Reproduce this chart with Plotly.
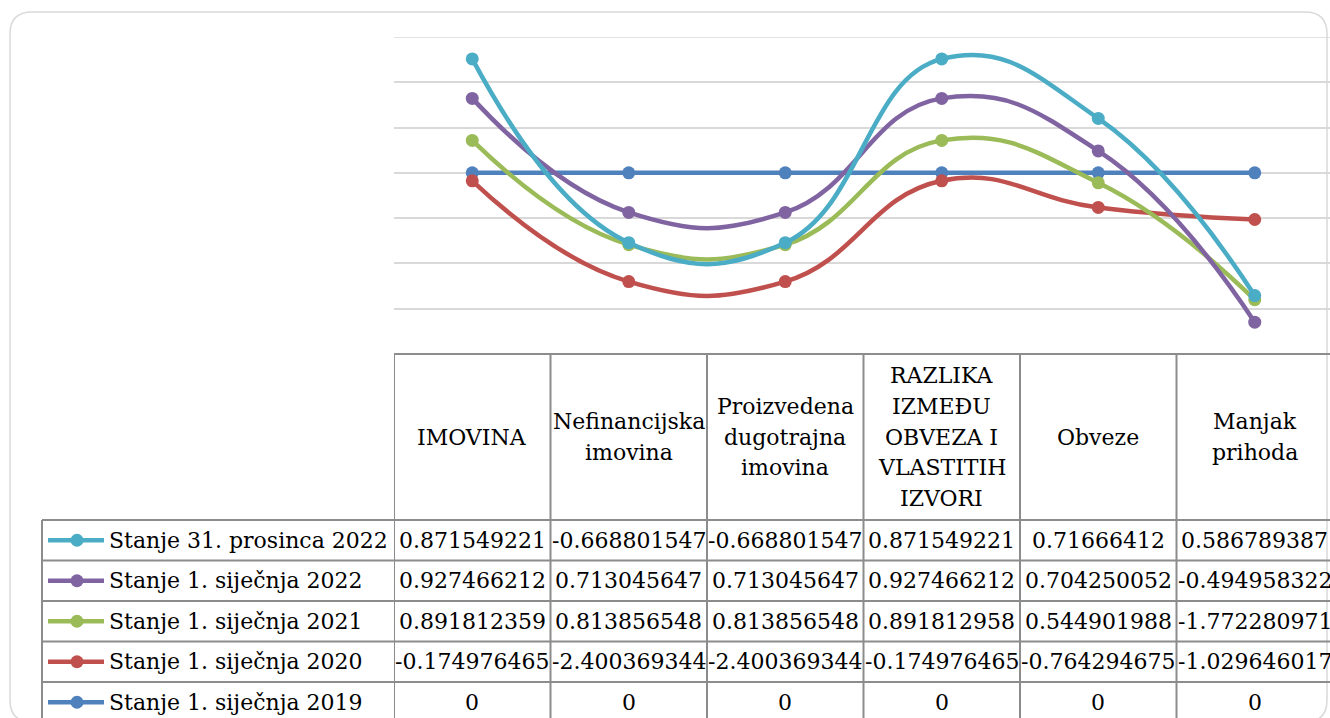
import numpy as np
import plotly.graph_objects as go

# ---------------- data ----------------
CATEGORIES = [
    "IMOVINA",
    "Nefinancijska<br>imovina",
    "Proizvedena<br>dugotrajna<br>imovina",
    "RAZLIKA<br>IZMEĐU<br>OBVEZA I<br>VLASTITIH<br>IZVORI",
    "Obveze",
    "Manjak<br>prihoda",
]

SERIES_NAMES = [
    "Stanje 1. siječnja 2019",
    "Stanje 1. siječnja 2020",
    "Stanje 1. siječnja 2021",
    "Stanje 1. siječnja 2022",
    "Stanje 31. prosinca 2022",
]
S2019 = [0, 0, 0, 0, 0, 0]
S2020 = [-0.174976465, -2.400369344, -2.400369344, -0.174976465, -0.764294675, -1.029646017]
S2021 = [0.891812359, 0.813856548, 0.813856548, 0.891812958, 0.544901988, -1.772280971]
S2022 = [0.927466212, 0.713045647, 0.713045647, 0.927466212, 0.704250052, -0.494958322]
S2022_DEC = [0.871549221, -0.668801547, -0.668801547, 0.871549221, 0.71666412, 0.586789387]

SERIES_VALUES = [S2019, S2020, S2021, S2022, S2022_DEC]
COLORS = ["#4f81bd", "#c0504d", "#9bbb59", "#8064a2", "#4bacc6"]

# ---------------- layout helpers ----------------
W, H = 1330, 718
FONT = "DejaVu Serif"
FS = 22
GRID = "#d9d9d9"
TABLE = "#8c8c8c"


def px(x):
    return x / W


def py(y):
    return 1 - y / H


PLOT_TOP, PLOT_BOT = 37, 354
PLOT_LEFT = 394
COL_W = 156.5
LEG_LEFT = 42
HEADER_BOT = 520
ROW_H = 40.5
Y_MIN, Y_MAX = -4, 3

n = len(CATEGORIES)
xs = np.arange(n)
stacked = np.cumsum(np.array(SERIES_VALUES, dtype=float), axis=0)

fig = go.Figure()
for name, ys, col in zip(SERIES_NAMES, stacked, COLORS):
    fig.add_trace(go.Scatter(
        x=xs, y=ys, name=name, mode="lines+markers",
        line=dict(color=col, width=4.5, shape="spline", smoothing=1.3),
        marker=dict(color=col, size=13),
        showlegend=False, hoverinfo="skip",
    ))

shapes = []
annotations = []

# rounded outer border
x0, y0, x1, y1 = px(10), py(12), px(1327), py(722)
rx, ry = 22 / W, 22 / H
path = (f"M {x0+rx},{y0} L {x1-rx},{y0} Q {x1},{y0} {x1},{y0-ry} "
        f"L {x1},{y1+ry} Q {x1},{y1} {x1-rx},{y1} L {x0+rx},{y1} "
        f"Q {x0},{y1} {x0},{y1+ry} L {x0},{y0-ry} Q {x0},{y0} {x0+rx},{y0} Z")
shapes.append(dict(type="path", xref="paper", yref="paper", path=path,
                   line=dict(color=GRID, width=1.5), layer="below"))

# top gridline (at the axis maximum)
shapes.append(dict(type="line", xref="paper", yref="y",
                   x0=px(PLOT_LEFT), x1=1, y0=Y_MAX, y1=Y_MAX,
                   line=dict(color=GRID, width=1.5), layer="below"))

# table: top line of header
shapes.append(dict(type="line", xref="paper", yref="paper",
                   x0=px(PLOT_LEFT), x1=1, y0=py(PLOT_BOT), y1=py(PLOT_BOT),
                   line=dict(color=TABLE, width=2)))
# row lines
row_edges = [HEADER_BOT + k * ROW_H for k in range(len(SERIES_NAMES))]
for ry_ in row_edges:
    shapes.append(dict(type="line", xref="paper", yref="paper",
                       x0=px(LEG_LEFT), x1=1, y0=py(ry_), y1=py(ry_),
                       line=dict(color=TABLE, width=2)))
# vertical column boundaries
for i in range(n + 1):
    shapes.append(dict(type="line", xref="x", yref="paper",
                       x0=i - 0.5, x1=i - 0.5, y0=py(PLOT_BOT), y1=-0.02,
                       line=dict(color=TABLE, width=2)))
shapes.append(dict(type="line", xref="paper", yref="paper",
                   x0=px(LEG_LEFT), x1=px(LEG_LEFT), y0=py(HEADER_BOT), y1=-0.02,
                   line=dict(color=TABLE, width=2)))

# header labels
HEAD_C = 437
LINE_H = 30.7
for i, cat in enumerate(CATEGORIES):
    parts = cat.split("<br>")
    m = len(parts)
    for k, part in enumerate(parts):
        yc = HEAD_C + (k - (m - 1) / 2) * LINE_H
        annotations.append(dict(x=i, y=py(yc), xref="x", yref="paper", text=part,
                                showarrow=False, xanchor="center", yanchor="middle",
                                font=dict(family=FONT, size=FS, color="#000")))


def fmt(v):
    if v == 0:
        return "0"
    return f"{v:.9f}".rstrip("0").rstrip(".")


# data rows: listed in reverse series order (top = last series)
order = list(range(len(SERIES_NAMES)))[::-1]
for r, si in enumerate(order):
    yc = HEADER_BOT + (r + 0.5) * ROW_H
    col = COLORS[si]
    # legend key
    shapes.append(dict(type="line", xref="paper", yref="paper",
                       x0=px(48), x1=px(104), y0=py(yc), y1=py(yc),
                       line=dict(color=col, width=4.5)))
    shapes.append(dict(type="circle", xref="paper", yref="paper",
                       x0=px(77 - 6.5), x1=px(77 + 6.5), y0=py(yc + 6.5), y1=py(yc - 6.5),
                       fillcolor=col, line=dict(width=0)))
    annotations.append(dict(x=px(107), y=py(yc), xref="paper", yref="paper",
                            text=SERIES_NAMES[si], showarrow=False,
                            xanchor="left", yanchor="middle",
                            font=dict(family=FONT, size=FS, color="#000")))
    for i, v in enumerate(SERIES_VALUES[si]):
        annotations.append(dict(x=i, y=py(yc), xref="x", yref="paper", text=fmt(v),
                                showarrow=False, xanchor="center", yanchor="middle",
                                font=dict(family=FONT, size=FS, color="#000")))

fig.update_layout(
    width=W, height=H,
    margin=dict(l=0, r=0, t=0, b=0),
    paper_bgcolor="white", plot_bgcolor="white",
    shapes=shapes, annotations=annotations,
    xaxis=dict(domain=[px(PLOT_LEFT), 1], range=[-0.5, -0.5 + (W - PLOT_LEFT) / COL_W],
               showgrid=False, zeroline=False, showticklabels=False, showline=False,
               fixedrange=True),
    yaxis=dict(domain=[py(PLOT_BOT), py(PLOT_TOP)], range=[Y_MIN, Y_MAX], dtick=1,
               showgrid=True, gridcolor=GRID, gridwidth=1.5, zeroline=False,
               showticklabels=False, showline=False, fixedrange=True),
    font=dict(family=FONT, size=FS),
)

fig.write_html("out.html", config={"displayModeBar": False},
               post_script="document.body.style.margin='0';document.body.style.overflow='hidden';")
